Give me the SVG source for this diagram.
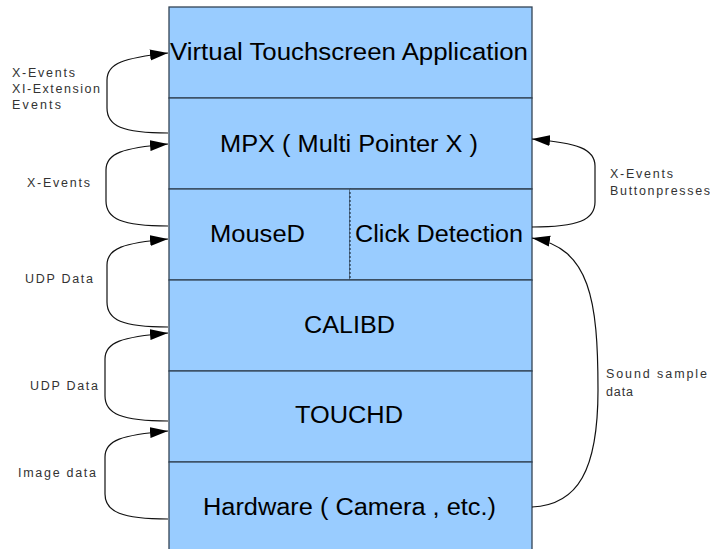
<svg xmlns="http://www.w3.org/2000/svg" width="710" height="549" viewBox="0 0 710 549">
  <style>
    .layer { fill: #99ccff; stroke: #334455; stroke-width: 1.3; }
    .split { stroke: #223344; stroke-width: 1.2; stroke-dasharray: 2 2; }
    .big { font-family: "Liberation Sans", Arial, sans-serif; font-size: 23px; fill: #000; }
    .small { font-family: "Liberation Sans", Arial, sans-serif; font-size: 12.5px; fill: #333; }
    .flow { fill: none; stroke: #111; stroke-width: 1.2; marker-end: url(#head); }
  </style>
  <defs>
    <marker id="head" markerUnits="userSpaceOnUse" markerWidth="19" markerHeight="12" refX="18" refY="6" orient="auto">
      <path d="M0,0.5 L18,6 L0,11.5 Z" fill="#000"/>
    </marker>
  </defs>

  <rect width="710" height="549" fill="#fff"/>

  <!-- protocol stack layers -->
  <g id="app">
    <rect class="layer" x="169" y="7" width="363" height="91"/>
    <text class="big" x="170" y="60" textLength="358" lengthAdjust="spacingAndGlyphs">Virtual Touchscreen Application</text>
  </g>
  <g id="mpx">
    <rect class="layer" x="169" y="98" width="363" height="91"/>
    <text class="big" x="220" y="152" textLength="258" lengthAdjust="spacingAndGlyphs">MPX ( Multi Pointer X )</text>
  </g>
  <g id="moused">
    <rect class="layer" x="169" y="189" width="181" height="91"/>
    <text class="big" x="210" y="242" textLength="95" lengthAdjust="spacingAndGlyphs">MouseD</text>
  </g>
  <g id="click">
    <rect x="350" y="189" width="182" height="91" fill="#99ccff"/>
    <path d="M350,189 H532 V280 H350" fill="none" stroke="#334455" stroke-width="1.3"/>
    <line class="split" x1="350" y1="192" x2="350" y2="279"/>
    <text class="big" x="355" y="242" textLength="168" lengthAdjust="spacingAndGlyphs">Click Detection</text>
  </g>
  <g id="calibd">
    <rect class="layer" x="169" y="280" width="363" height="91"/>
    <text class="big" x="304" y="333" textLength="91" lengthAdjust="spacingAndGlyphs">CALIBD</text>
  </g>
  <g id="touchd">
    <rect class="layer" x="169" y="371" width="363" height="91"/>
    <text class="big" x="295" y="423" textLength="108" lengthAdjust="spacingAndGlyphs">TOUCHD</text>
  </g>
  <g id="hardware">
    <rect class="layer" x="169" y="462" width="363" height="100"/>
    <text class="big" x="203" y="515" textLength="293" lengthAdjust="spacingAndGlyphs">Hardware ( Camera , etc.)</text>
  </g>

  <!-- data flows between layers -->
  <g id="connectors">
    <path class="flow" d="M168,133 C122,133 107,126 107,108 L107,80 C107,63 124,58 168,53"/>
    <path class="flow" d="M168,226 C122,226 106,219 106,201 L106,170 C106,153 123,148 168,144"/>
    <path class="flow" d="M168,327 C122,327 107,320 107,302 L107,265 C107,248 124,243 168,239"/>
    <path class="flow" d="M168,421 C122,421 105,414 105,396 L105,359 C105,342 122,337 168,333"/>
    <path class="flow" d="M168,519 C122,519 105,512 105,494 L105,457 C105,440 122,435 168,431"/>
    <path class="flow" d="M532,227 C578,227 595,220 595,202 L595,166 C595,149 578,143 532,139"/>
    <path class="flow" d="M532,507 C578,505 598,470 598,390 C598,300 590,248 532,238"/>
  </g>

  <!-- flow labels -->
  <g id="labels">
    <text class="small" x="12" y="77" textLength="63" lengthAdjust="spacing">X-Events</text>
    <text class="small" x="12" y="93" textLength="88" lengthAdjust="spacing">XI-Extension</text>
    <text class="small" x="12" y="109" textLength="49" lengthAdjust="spacing">Events</text>
    <text class="small" x="27" y="187" textLength="63" lengthAdjust="spacing">X-Events</text>
    <text class="small" x="25" y="283" textLength="68" lengthAdjust="spacing">UDP Data</text>
    <text class="small" x="30" y="390" textLength="68" lengthAdjust="spacing">UDP Data</text>
    <text class="small" x="18" y="477" textLength="78" lengthAdjust="spacing">Image data</text>
    <text class="small" x="610" y="178" textLength="63" lengthAdjust="spacing">X-Events</text>
    <text class="small" x="610" y="195" textLength="100" lengthAdjust="spacing">Buttonpresses</text>
    <text class="small" x="606" y="378" textLength="101" lengthAdjust="spacing">Sound sample</text>
    <text class="small" x="606" y="396" textLength="27" lengthAdjust="spacing">data</text>
  </g>
</svg>
